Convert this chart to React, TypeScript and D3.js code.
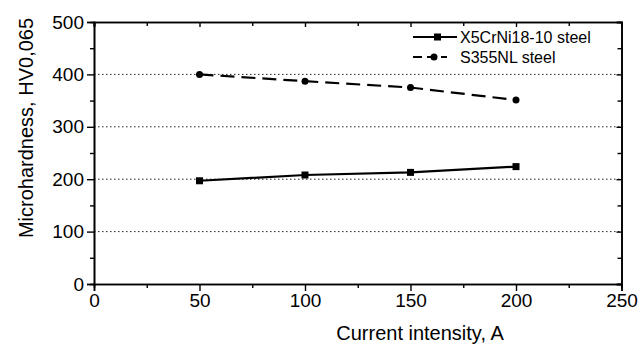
import React, { useEffect, useRef } from 'react';
import * as d3 from 'd3';

const currents = [50, 100, 150, 200];
const x5crni = [197, 208, 213, 224];
const s355nl = [400, 387, 375, 351];
const xTicks = [0, 50, 100, 150, 200, 250];
const yTicks = [0, 100, 200, 300, 400, 500];
const gridValues = [100, 200, 300, 400];
const seriesNames = ['X5CrNi18-10 steel', 'S355NL steel'];

const W = 638;
const H = 346;

const App: React.FC = () => {
  const svgRef = useRef<SVGSVGElement>(null);

  useEffect(() => {
    if (!svgRef.current) return;
    const svg = d3.select(svgRef.current);
    svg.selectAll('*').remove();

    const font = '"Liberation Sans", Arial, sans-serif';
    const x = d3.scaleLinear().domain([0, 250]).range([94, 621.5]);
    const y = d3.scaleLinear().domain([0, 500]).range([284, 22]);

    // dotted grid
    svg.append('g')
      .selectAll('line')
      .data(gridValues)
      .join('line')
      .attr('x1', x(0))
      .attr('x2', x(250))
      .attr('y1', d => y(d))
      .attr('y2', d => y(d))
      .attr('stroke', '#222')
      .attr('stroke-width', 1)
      .attr('stroke-dasharray', '1.5,2.5');

    const styleAxis = (g: any) => {
      g.select('.domain').attr('stroke', '#000').attr('stroke-width', 1.6);
      g.selectAll('.tick line').attr('stroke', '#000').attr('stroke-width', 1.4);
      g.selectAll('.tick text').attr('font-family', font).attr('font-size', 19).attr('fill', '#000');
      g.attr('font-family', null).attr('font-size', null);
    };

    // bottom / left axes with labels
    const xAxis = d3.axisBottom(x).tickValues(xTicks).tickSize(7).tickPadding(3).tickFormat(d3.format('d'));
    const xMinor = d3.axisBottom(x).tickValues(d3.range(25, 250, 50)).tickSize(4).tickFormat(() => '');
    const yAxis = d3.axisLeft(y).tickValues(yTicks).tickSize(7).tickPadding(3).tickFormat(d3.format('d'));
    const yMinor = d3.axisLeft(y).tickValues(d3.range(50, 500, 100)).tickSize(4).tickFormat(() => '');

    svg.append('g').attr('transform', `translate(0,${y(0)})`).call(xAxis).call(styleAxis);
    svg.append('g').attr('transform', `translate(0,${y(0)})`).call(xMinor).call(styleAxis);
    svg.append('g').attr('transform', `translate(${x(0)},0)`).call(yAxis).call(styleAxis);
    svg.append('g').attr('transform', `translate(${x(0)},0)`).call(yMinor).call(styleAxis);

    // mirrored top/right axes, ticks pointing inside
    const topMajor = d3.axisBottom(x).tickValues(xTicks).tickSize(5).tickFormat(() => '');
    const topMinor = d3.axisBottom(x).tickValues(d3.range(25, 250, 50)).tickSize(4).tickFormat(() => '');
    const rightMajor = d3.axisLeft(y).tickValues(yTicks).tickSize(5).tickFormat(() => '');
    const rightMinor = d3.axisLeft(y).tickValues(d3.range(50, 500, 100)).tickSize(4).tickFormat(() => '');
    svg.append('g').attr('transform', `translate(0,${y(500)})`).call(topMajor).call(styleAxis);
    svg.append('g').attr('transform', `translate(0,${y(500)})`).call(topMinor).call(styleAxis);
    svg.append('g').attr('transform', `translate(${x(250)},0)`).call(rightMajor).call(styleAxis);
    svg.append('g').attr('transform', `translate(${x(250)},0)`).call(rightMinor).call(styleAxis);

    // axis titles
    svg.append('text')
      .attr('x', 420)
      .attr('y', 340)
      .attr('text-anchor', 'middle')
      .attr('font-family', font)
      .attr('font-size', 20)
      .text('Current intensity, A');

    svg.append('text')
      .attr('transform', `translate(33,128) rotate(-90)`)
      .attr('text-anchor', 'middle')
      .attr('font-family', font)
      .attr('font-size', 20)
      .text('Microhardness, HV0,065');

    const line = d3.line<number>()
      .x((_, i) => x(currents[i]))
      .y(d => y(d));

    // X5CrNi18-10 - solid with squares
    svg.append('path')
      .datum(x5crni)
      .attr('d', line)
      .attr('fill', 'none')
      .attr('stroke', '#000')
      .attr('stroke-width', 2.2);
    svg.append('g')
      .selectAll('rect')
      .data(x5crni)
      .join('rect')
      .attr('x', (_, i) => x(currents[i]) - 3.5)
      .attr('y', d => y(d) - 3.5)
      .attr('width', 7)
      .attr('height', 7)
      .attr('fill', '#000');

    // S355NL - dashed with circles
    svg.append('path')
      .datum(s355nl)
      .attr('d', line)
      .attr('fill', 'none')
      .attr('stroke', '#000')
      .attr('stroke-width', 2.2)
      .attr('stroke-dasharray', '14,7');
    svg.append('g')
      .selectAll('circle')
      .data(s355nl)
      .join('circle')
      .attr('cx', (_, i) => x(currents[i]))
      .attr('cy', d => y(d))
      .attr('r', 3.5)
      .attr('fill', '#000');

    // legend
    const leg = svg.append('g').attr('font-family', font).attr('font-size', 16);
    leg.append('line').attr('x1', 413).attr('x2', 457).attr('y1', 37).attr('y2', 37)
      .attr('stroke', '#000').attr('stroke-width', 2.2);
    leg.append('rect').attr('x', 434).attr('y', 33.5).attr('width', 7).attr('height', 7).attr('fill', '#000');
    leg.append('text').attr('x', 460).attr('y', 42.5).text(seriesNames[0]);

    leg.append('line').attr('x1', 413).attr('x2', 447).attr('y1', 57).attr('y2', 57)
      .attr('stroke', '#000').attr('stroke-width', 2.2).attr('stroke-dasharray', '9,5');
    leg.append('circle').attr('cx', 434).attr('cy', 57).attr('r', 3.5).attr('fill', '#000');
    leg.append('text').attr('x', 460).attr('y', 62.5).text(seriesNames[1]);
  }, []);

  return (
    <svg
      ref={svgRef}
      width={W}
      height={H}
      style={{ position: 'absolute', left: 0, top: 0, background: '#fff' }}
    />
  );
};

export default App;
